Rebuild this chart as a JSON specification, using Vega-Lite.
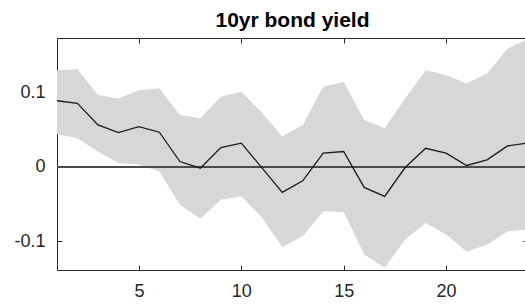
{
  "$schema": "https://vega.github.io/schema/vega-lite/v6.json",
  "autosize": "none",
  "padding": {"left": 57, "top": 38, "right": 0, "bottom": 37},
  "width": 471,
  "height": 232,
  "background": "white",
  "title": {"text": "10yr bond yield", "font": "Liberation Sans", "fontSize": 21, "fontWeight": "bold", "color": "#000000", "anchor": "middle", "offset": 7},
  "config": {
    "view": {"stroke": null},
    "axis": {"font": "Liberation Sans", "labelFont": "Liberation Sans", "labelFontSize": 18, "labelColor": "#262626", "domainColor": "#262626", "tickColor": "#262626", "domainWidth": 1, "tickWidth": 1, "tickSize": -5, "grid": false, "title": null}
  },
  "data": {"values": [
    {"step": 1, "irf": 0.089, "lo": 0.044, "hi": 0.130},
    {"step": 2, "irf": 0.0855, "lo": 0.0385, "hi": 0.1315},
    {"step": 3, "irf": 0.0564, "lo": 0.0206, "hi": 0.0966},
    {"step": 4, "irf": 0.046, "lo": 0.005, "hi": 0.092},
    {"step": 5, "irf": 0.054, "lo": 0.003, "hi": 0.103},
    {"step": 6, "irf": 0.0466, "lo": -0.0063, "hi": 0.1056},
    {"step": 7, "irf": 0.0071, "lo": -0.051, "hi": 0.0698},
    {"step": 8, "irf": -0.0018, "lo": -0.0698, "hi": 0.0653},
    {"step": 9, "irf": 0.026, "lo": -0.0443, "hi": 0.0944},
    {"step": 10, "irf": 0.0318, "lo": -0.0398, "hi": 0.101},
    {"step": 11, "irf": -0.001, "lo": -0.068, "hi": 0.073},
    {"step": 12, "irf": -0.0345, "lo": -0.108, "hi": 0.0407},
    {"step": 13, "irf": -0.0188, "lo": -0.0935, "hi": 0.0564},
    {"step": 14, "irf": 0.0184, "lo": -0.060, "hi": 0.1078},
    {"step": 15, "irf": 0.0206, "lo": -0.061, "hi": 0.1145},
    {"step": 16, "irf": -0.0277, "lo": -0.118, "hi": 0.063},
    {"step": 17, "irf": -0.0398, "lo": -0.136, "hi": 0.052},
    {"step": 18, "irf": -0.001, "lo": -0.098, "hi": 0.092},
    {"step": 19, "irf": 0.025, "lo": -0.0756, "hi": 0.130},
    {"step": 20, "irf": 0.0184, "lo": -0.0913, "hi": 0.1235},
    {"step": 21, "irf": 0.0018, "lo": -0.114, "hi": 0.1123},
    {"step": 22, "irf": 0.0094, "lo": -0.105, "hi": 0.1258},
    {"step": 23, "irf": 0.0282, "lo": -0.0868, "hi": 0.159},
    {"step": 24, "irf": 0.032, "lo": -0.0846, "hi": 0.172}
  ]},
  "resolve": {"axis": {"x": "independent", "y": "independent"}},
  "layer": [
    {
      "mark": {"type": "area", "color": "#d7d7d7", "opacity": 1},
      "encoding": {
        "x": {"field": "step", "type": "quantitative", "scale": {"domain": [1, 24], "nice": false, "zero": false}, "axis": {"orient": "bottom", "values": [5, 10, 15, 20], "labelPadding": 17, "labelFlush": false}},
        "y": {"field": "lo", "type": "quantitative", "scale": {"domain": [-0.139, 0.1735], "nice": false, "zero": false}, "axis": {"orient": "left", "values": [-0.1, 0, 0.1], "labelPadding": 17, "labelExpr": "datum.value < 0 ? '-' + format(-datum.value, '~g') : format(datum.value, '~g')"}},
        "y2": {"field": "hi"}
      }
    },
    {
      "mark": {"type": "rule", "color": "#4a4a4a", "strokeWidth": 1.5},
      "encoding": {"y": {"datum": 0, "type": "quantitative", "axis": null}}
    },
    {
      "mark": {"type": "line", "color": "#1a1a1a", "strokeWidth": 1.3},
      "encoding": {
        "x": {"field": "step", "type": "quantitative", "axis": {"orient": "top", "values": [5, 10, 15, 20], "labels": false}},
        "y": {"field": "irf", "type": "quantitative", "axis": {"orient": "right", "values": [-0.1, 0, 0.1], "labels": false}}
      }
    }
  ]
}
